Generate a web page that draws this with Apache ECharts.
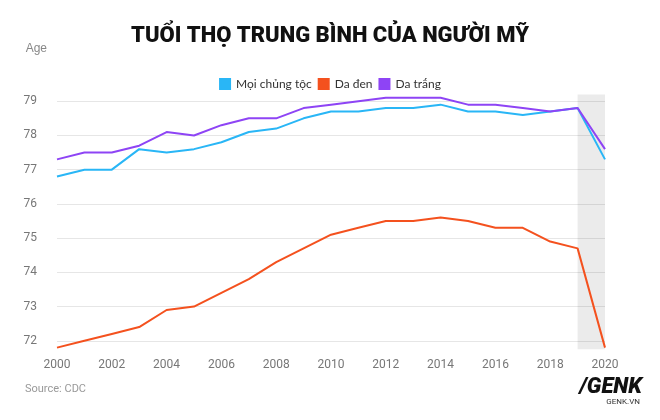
<!DOCTYPE html><html><head><meta charset="utf-8">
<script src="https://cdn.jsdelivr.net/npm/echarts@6/dist/echarts.min.js"></script>
<style>html,body{margin:0;background:#fff}#c{width:660px;height:420px}</style></head><body><div id="c"></div>
<script>
const years=['2000','2001','2002','2003','2004','2005','2006','2007','2008','2009','2010','2011','2012','2013','2014','2015','2016','2017','2018','2019','2020'];
const allRaces=[76.8,77.0,77.0,77.6,77.5,77.6,77.8,78.1,78.2,78.5,78.7,78.7,78.8,78.8,78.9,78.7,78.7,78.6,78.7,78.8,77.3];
const black=[71.8,72.0,72.2,72.4,72.9,73.0,73.4,73.8,74.3,74.7,75.1,75.3,75.5,75.5,75.6,75.5,75.3,75.3,74.9,74.7,71.8];
const white=[77.3,77.5,77.5,77.7,78.1,78.0,78.3,78.5,78.5,78.8,78.9,79.0,79.1,79.1,79.1,78.9,78.9,78.8,78.7,78.8,77.6];
const ch=echarts.init(document.getElementById('c'));
const ls=c=>({type:'line',symbol:'none',lineStyle:{width:2,color:c},itemStyle:{color:c}});
ch.setOption({
 animation:false,
 title:{text:'TUỔI THỌ TRUNG BÌNH CỦA NGƯỜI MỸ',left:'center',top:20,textStyle:{fontFamily:'Roboto',fontWeight:900,fontSize:22,color:'#111'}},
 legend:{top:73,left:'center',itemWidth:12,itemHeight:12,itemGap:6,icon:'rect',textStyle:{fontFamily:'Lato',fontSize:12,color:'#333'}},
 grid:{left:57,right:55,top:67,bottom:45},
 xAxis:{type:'category',data:years,boundaryGap:false,offset:-24,axisLine:{show:false},axisTick:{show:false},
  axisLabel:{interval:1,color:'#777',fontFamily:'Roboto',fontSize:12,margin:8}},
 yAxis:{type:'value',min:71,max:80,interval:1,name:'Age',nameLocation:'end',nameGap:12,
  nameTextStyle:{color:'#888',fontSize:12,align:'right',padding:[0,10,0,0]},
  axisLabel:{color:'#777',fontSize:12,fontFamily:'Roboto',margin:20,formatter:v=>(v>=72&&v<=79)?v:''},
  splitLine:{show:true,showMinLine:false,showMaxLine:false,lineStyle:{color:'#e6e6e6'}}},
 series:[
  Object.assign(ls('#29b6f6'),{name:'Mọi chủng tộc',data:allRaces,z:3,
   markArea:{silent:true,itemStyle:{color:'rgba(0,0,0,0.08)'},data:[[{xAxis:'2019',yAxis:71.75},{xAxis:'2020',yAxis:79.2}]]}}),
  Object.assign(ls('#f4511e'),{name:'Da đen',data:black}),
  Object.assign(ls('#8e44f5'),{name:'Da trắng',data:white})
 ],
 graphic:[
  {type:'text',left:25,top:384,style:{text:'Source: CDC',fill:'#999',font:'11px Roboto'}},
  {type:'text',right:18,top:376,style:{text:'/GENK',fill:'#111',font:'italic 900 22px Roboto'}},
  {type:'text',right:20,top:398,style:{text:'GENK.VN',fill:'#333',font:'8px Roboto'}}
 ]
});
</script></body></html>
